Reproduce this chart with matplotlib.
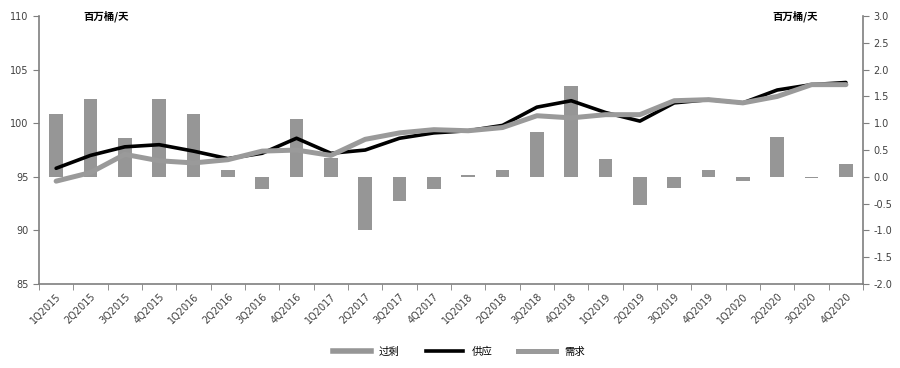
import matplotlib.pyplot as plt
from matplotlib.lines import Line2D
import numpy as np

plt.rcParams['font.family'] = ['DejaVu Sans', 'Noto Sans CJK SC']

quarters = [
    "1Q2015", "2Q2015", "3Q2015", "4Q2015",
    "1Q2016", "2Q2016", "3Q2016", "4Q2016",
    "1Q2017", "2Q2017", "3Q2017", "4Q2017",
    "1Q2018", "2Q2018", "3Q2018", "4Q2018",
    "1Q2019", "2Q2019", "3Q2019", "4Q2019",
    "1Q2020", "2Q2020", "3Q2020", "4Q2020",
]

# 过剩 (右轴)
surplus = [
    1.17, 1.46, 0.72, 1.46,
    1.17, 0.12, -0.23, 1.08,
    0.36, -1.00, -0.45, -0.23,
    0.03, 0.13, 0.84, 1.69,
    0.33, -0.53, -0.20, 0.13,
    -0.08, 0.74, -0.02, 0.24,
]

# 供应 (左轴)
supply = [
    95.8, 97.0, 97.8, 98.0,
    97.4, 96.7, 97.2, 98.6,
    97.2, 97.5, 98.6, 99.1,
    99.3, 99.8, 101.5, 102.1,
    101.0, 100.2, 101.9, 102.2,
    101.9, 103.1, 103.6, 103.8,
]

# 需求 (左轴)
demand = [
    94.6, 95.4, 97.1, 96.5,
    96.3, 96.6, 97.4, 97.5,
    97.0, 98.5, 99.1, 99.4,
    99.3, 99.6, 100.7, 100.5,
    100.8, 100.8, 102.1, 102.2,
    101.9, 102.5, 103.6, 103.6,
]

legend_labels = ["过剩", "供应", "需求"]
unit = "百万桶/天"

bar_color = "#969696"
demand_color = "#9a9a9a"
axis_color = "#7f7f7f"
text_color = "#404040"

fig = plt.figure(figsize=(9, 3.68), dpi=100)
ax = fig.add_axes([0.0433, 0.228, 0.9157, 0.7285])
ax2 = ax.twinx()

x = np.arange(len(quarters))

ax2.bar(x, surplus, width=0.4, color=bar_color)

ax.plot(x, supply, color="black", lw=2.6, solid_capstyle="round")
ax.plot(x, demand, color=demand_color, lw=3.6, solid_capstyle="round")

# lines above the bars
ax.set_zorder(ax2.get_zorder() + 1)
ax.patch.set_visible(False)

ax.set_xlim(-0.5, len(quarters) - 0.5)
ax.set_ylim(85, 110)
ax.set_yticks(np.arange(85, 111, 5))
ax2.set_ylim(-2.0, 3.0)
ax2.set_yticks(np.arange(-2.0, 3.01, 0.5))
ax2.set_yticklabels([f"{v:.1f}" for v in np.arange(-2.0, 3.01, 0.5)])

ax.set_xticks(x)
ax.set_xticklabels(quarters, rotation=45, ha="right", rotation_mode="anchor",
                   fontsize=7, color=text_color)
ax.set_xticks(np.arange(-0.5, len(quarters)), minor=True)
ax.tick_params(axis="x", which="major", length=0, pad=5)
ax.tick_params(axis="x", which="minor", length=4, color=axis_color, direction="out")
ax.tick_params(axis="y", labelsize=7, colors=text_color, length=4, color=axis_color)
ax2.tick_params(axis="y", labelsize=7, colors=text_color, length=4, color=axis_color)

for a in (ax, ax2):
    a.spines["top"].set_visible(False)
    for s in ("left", "right", "bottom"):
        a.spines[s].set_color(axis_color)
        a.spines[s].set_linewidth(1.2)
ax.spines["right"].set_visible(False)
ax2.spines["left"].set_visible(False)
ax2.spines["bottom"].set_visible(False)

fig.text(0.093, 0.955, unit, fontsize=7.5, fontweight="bold",
         family=["Noto Sans CJK SC"], va="center")
fig.text(0.858, 0.955, unit, fontsize=7.5, fontweight="bold",
         family=["Noto Sans CJK SC"], va="center")

handles = [
    Line2D([0], [0], color=bar_color, lw=4),
    Line2D([0], [0], color="black", lw=2.6),
    Line2D([0], [0], color=demand_color, lw=3.6),
]
fig.legend(handles, legend_labels, loc="center", bbox_to_anchor=(0.51, 0.045),
           ncol=3, frameon=False, handlelength=3.6, columnspacing=2.5,
           prop={"family": ["Noto Sans CJK SC"], "size": 7.5})

fig.savefig("out.png", dpi=100)
